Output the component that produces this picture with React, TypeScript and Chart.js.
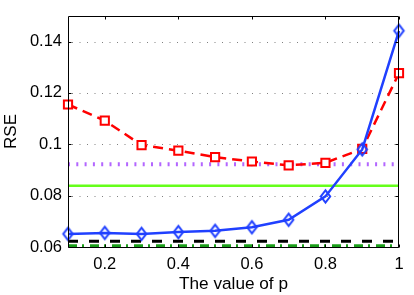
import React, { useEffect, useRef } from 'react';
import { Chart, registerables } from 'chart.js';

Chart.register(...registerables);

const pValues = [0.1, 0.2, 0.3, 0.4, 0.5, 0.6, 0.7, 0.8, 0.9, 1.0];
const blueSeries = [0.0651, 0.0655, 0.0651, 0.0658, 0.0663, 0.0677, 0.0706, 0.0797, 0.098, 0.1442];
const redSeries = [0.1155, 0.1092, 0.0997, 0.0975, 0.095, 0.0933, 0.0918, 0.0928, 0.0982, 0.1277];
const purpleLevel = 0.0922;
const limeLevel = 0.0839;
const blackLevel = 0.0622;
const greenLevel = 0.0605;
const xRange = [0.1, 1];
const yRange = [0.06, 0.15];
const xTicks = [0.2, 0.4, 0.6, 0.8, 1];
const xTickLabels = ['0.2', '0.4', '0.6', '0.8', '1'];
const yTicks = [0.06, 0.08, 0.1, 0.12, 0.14];
const yTickLabels = ['0.06', '0.08', '0.1', '0.12', '0.14'];
const xTitle = 'The value of p';
const yTitle = 'RSE';

const FONT = 'Liberation Sans, Arial, Helvetica, sans-serif';

function makeDiamond(color: string): HTMLCanvasElement {
  const c = document.createElement('canvas');
  const hw = 4.7;
  const hh = 6.2;
  c.width = 15;
  c.height = 17;
  const ctx = c.getContext('2d')!;
  const cx = c.width / 2;
  const cy = c.height / 2;
  ctx.strokeStyle = color;
  ctx.lineWidth = 2;
  ctx.beginPath();
  ctx.moveTo(cx, cy - hh);
  ctx.lineTo(cx + hw, cy);
  ctx.lineTo(cx, cy + hh);
  ctx.lineTo(cx - hw, cy);
  ctx.closePath();
  ctx.stroke();
  return c;
}

const framePlugin = {
  id: 'matlabFrame',
  beforeDatasetsDraw(chart: any) {
    const { ctx, chartArea, scales } = chart;
    const { left, right, bottom } = chartArea;
    const y = scales.y;
    ctx.save();
    ctx.strokeStyle = '#808080';
    ctx.lineWidth = 1;
    ctx.setLineDash([1, 6.5]);
    yTicks.forEach((v) => {
      const py = Math.round(y.getPixelForValue(v)) + 0.5;
      if (Math.abs(py - bottom) < 2) return;
      ctx.beginPath();
      ctx.moveTo(left + 4, py);
      ctx.lineTo(right, py);
      ctx.stroke();
    });
    ctx.restore();
  },
  afterDatasetsDraw(chart: any) {
    const { ctx, chartArea, scales } = chart;
    const { left, right, top, bottom } = chartArea;
    const x = scales.x;
    const y = scales.y;
    const L = Math.round(left) + 0.5;
    const R = Math.round(right) - 0.5;
    const T = Math.round(top) + 0.5;
    const B = Math.round(bottom) + 0.5;
    ctx.save();
    ctx.strokeStyle = '#000';
    ctx.lineWidth = 1;
    ctx.setLineDash([]);
    ctx.beginPath();
    ctx.rect(L, T, R - L, B - T);
    ctx.stroke();
    const tl = 3;
    ctx.beginPath();
    xTicks.forEach((v) => {
      const px = Math.round(x.getPixelForValue(v)) + 0.5;
      ctx.moveTo(px, B);
      ctx.lineTo(px, B - tl);
      ctx.moveTo(px, T);
      ctx.lineTo(px, T + tl);
    });
    yTicks.forEach((v) => {
      const py = Math.round(y.getPixelForValue(v)) + 0.5;
      ctx.moveTo(L, py);
      ctx.lineTo(L + tl, py);
      ctx.moveTo(R, py);
      ctx.lineTo(R - tl, py);
    });
    ctx.stroke();
    ctx.restore();
  },
};

function levelData(v: number) {
  return [
    { x: xRange[0], y: v },
    { x: xRange[1], y: v },
  ];
}

export default function App() {
  const canvasRef = useRef<HTMLCanvasElement | null>(null);

  useEffect(() => {
    if (!canvasRef.current) return;
    const diamond = makeDiamond('#2040ff');
    const chart = new Chart(canvasRef.current, {
      type: 'line',
      data: {
        datasets: [
          {
            data: pValues.map((p, i) => ({ x: p, y: blueSeries[i] })),
            borderColor: '#2040ff',
            borderWidth: 2.5,
            pointStyle: diamond as any,
            pointRadius: 6,
            backgroundColor: 'transparent',
            clip: false as any,
          },
          {
            data: pValues.map((p, i) => ({ x: p, y: redSeries[i] })),
            borderColor: '#ff0000',
            borderWidth: 2.5,
            borderDash: [10, 6],
            pointStyle: 'rect',
            pointRadius: 5.8,
            pointBorderWidth: 2,
            pointBackgroundColor: '#ffffff',
            pointBorderColor: '#ff0000',
            clip: false as any,
          },
          {
            data: levelData(purpleLevel),
            borderColor: '#b366ff',
            borderWidth: 4,
            borderDash: [2, 6.3],
            pointRadius: 0,
          },
          {
            data: levelData(limeLevel),
            borderColor: '#66ff1a',
            borderWidth: 2.5,
            pointRadius: 0,
          },
          {
            data: levelData(blackLevel),
            borderColor: '#000000',
            borderWidth: 3,
            borderDash: [10, 11],
            pointRadius: 0,
          },
          {
            data: levelData(greenLevel),
            borderColor: '#1a9e1a',
            borderWidth: 3,
            borderDash: [9, 5, 2, 6],
            pointRadius: 0,
          },
        ],
      },
      options: {
        animation: false,
        responsive: true,
        maintainAspectRatio: false,
        layout: { padding: { top: 10, right: 15, left: 0, bottom: 0 } },
        plugins: { legend: { display: false }, tooltip: { enabled: false } },
        elements: { line: { tension: 0 } },
        scales: {
          x: {
            type: 'linear',
            min: xRange[0],
            max: xRange[1],
            grid: { display: false, drawTicks: false },
            border: { display: false },
            afterBuildTicks: (scale: any) => {
              scale.ticks = xTicks.map((v) => ({ value: v }));
            },
            afterFit: (scale: any) => {
              scale.height = 48;
            },
            ticks: {
              padding: 8,
              color: '#000',
              maxRotation: 0,
              autoSkip: false,
              font: { family: FONT, size: 16.5 },
              callback: (_v: any, i: number) => xTickLabels[i],
            },
            title: {
              display: true,
              text: xTitle,
              color: '#000',
              font: { family: FONT, size: 17.2 },
              padding: { top: 0, bottom: 0 },
            },
          },
          y: {
            type: 'linear',
            min: yRange[0],
            max: yRange[1],
            grid: { display: false, drawTicks: false },
            border: { display: false },
            afterBuildTicks: (scale: any) => {
              scale.ticks = yTicks.map((v) => ({ value: v }));
            },
            afterFit: (scale: any) => {
              scale.width = 68;
            },
            ticks: {
              padding: 6,
              color: '#000',
              autoSkip: false,
              font: { family: FONT, size: 16.5 },
              callback: (_v: any, i: number) => yTickLabels[i],
            },
            title: {
              display: true,
              text: yTitle,
              color: '#000',
              font: { family: FONT, size: 17 },
              padding: { top: 1, bottom: 0 },
            },
          },
        },
      },
      plugins: [framePlugin],
    } as any);
    return () => chart.destroy();
  }, []);

  return (
    <div style={{ position: 'absolute', left: 0, top: 0, width: 414, height: 295, background: '#fff' }}>
      <canvas ref={canvasRef} />
    </div>
  );
}
